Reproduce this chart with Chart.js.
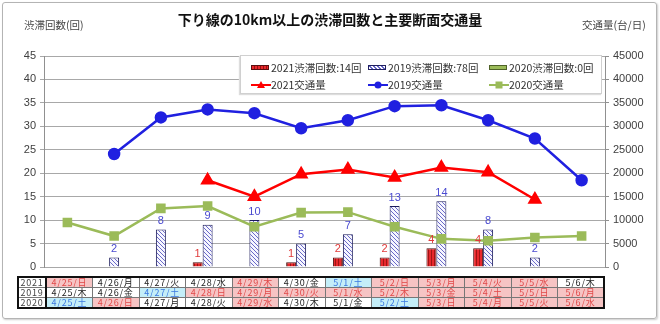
<!DOCTYPE html>
<html lang="ja">
<head>
<meta charset="UTF-8">
<title>下り線の10km以上の渋滞回数と主要断面交通量</title>
<script src="https://cdn.jsdelivr.net/npm/chart.js"></script>
<style>
    body { margin: 0; background: #fff; font-family: "Noto Sans CJK JP", sans-serif; }
    .frame {
        position: absolute; left: 2px; top: 2px; width: 653px; height: 315px;
        border: 1px solid #b4b4b4; border-radius: 3px; box-shadow: 1px 1px 2px #ccc;
    }
    #wrap { position: absolute; left: 0; top: 0; width: 660px; height: 324px; }
    .title { position: absolute; left: 0; width: 660px; top: 9px; text-align: center; font-size: 14px; font-weight: bold; color: #111; }
    .axis-title { position: absolute; top: 17px; font-size: 10.5px; color: #444; }
    .legend {
        position: absolute; left: 240px; top: 55px; width: 360px; height: 37px;
        background: #fff; border: 1px solid #d0d0d0; box-shadow: -1px 1px 1px #ddd;
        font-size: 10.5px; color: #333;
    }
    .legend .item { position: absolute; display: flex; align-items: center; white-space: nowrap; }
    .sw { width: 18px; height: 5px; margin-right: 2px; box-sizing: border-box; }
    .sw-red { background: repeating-linear-gradient(90deg, #e8282c 0 2px, #9a1010 2px 3px); border: 1px solid #5a1010; }
    .sw-blue { background: repeating-linear-gradient(45deg, #fff 0 1.5px, #6868c8 1.5px 3px); border: 1px solid #202060; }
    .sw-green { background: #9bbb59; border: 1px solid #4f6228; }
    table.days {
        position: absolute; left: 17px; top: 276px; width: 588px;
        border-collapse: collapse; table-layout: fixed; border: 2px solid #111;
        font-size: 9px; letter-spacing: 0.8px;
    }
    table.days td { border: 1px solid #777; height: 9px; line-height: 9px; padding: 0; text-align: center; color: #222; white-space: nowrap; overflow: hidden; }
    td.h { background: #f6c4c4; color: #e04848 !important; }
    td.s { background: #c4eef8; color: #3a78e0 !important; }
    td.yr { border-right: 2px solid #111 !important; color: #444 !important; }
</style>
</head>
<body>
<div class="frame"></div>
<div id="wrap">
    <canvas id="chart" width="660" height="324"></canvas>
</div>
<div class="title">下り線の10km以上の渋滞回数と主要断面交通量</div>
<div class="axis-title" style="left:24px">渋滞回数(回)</div>
<div class="axis-title" style="left:582px">交通量(台/日)</div>

<div class="legend">
    <div class="item" style="left:10px;top:4px"><div class="sw sw-red"></div>2021渋滞回数:14回</div>
    <div class="item" style="left:127px;top:4px"><div class="sw sw-blue"></div>2019渋滞回数:78回</div>
    <div class="item" style="left:248px;top:4px"><div class="sw sw-green"></div>2020渋滞回数:0回</div>
    <div class="item" style="left:10px;top:21px">
        <svg width="20" height="10"><line x1="0" y1="5" x2="20" y2="5" stroke="#ff0000" stroke-width="2"/><polygon points="10,1 14,8 6,8" fill="#ff0000"/></svg>2021交通量</div>
    <div class="item" style="left:127px;top:21px">
        <svg width="20" height="10"><line x1="0" y1="5" x2="20" y2="5" stroke="#2020e0" stroke-width="2"/><circle cx="10" cy="5" r="3.5" fill="#2020e0"/></svg>2019交通量</div>
    <div class="item" style="left:248px;top:21px">
        <svg width="20" height="10"><line x1="0" y1="5" x2="20" y2="5" stroke="#9bbb59" stroke-width="2"/><rect x="6.5" y="1.5" width="7" height="7" fill="#9bbb59"/></svg>2020交通量</div>
</div>

<table class="days" id="days"></table>

<script>
    // 日付(2021年基準のカテゴリ)
    const categories = ['4/25', '4/26', '4/27', '4/28', '4/29', '4/30', '5/1', '5/2', '5/3', '5/4', '5/5', '5/6'];

    // 渋滞回数(回)
    const jam2021 = [0, 0, 0, 1, 0, 1, 2, 2, 4, 4, 0, 0];
    const jam2019 = [0, 2, 8, 9, 10, 5, 7, 13, 14, 8, 2, 0];
    const jam2020 = [0, 0, 0, 0, 0, 0, 0, 0, 0, 0, 0, 0];

    // 交通量(台/日)
    const traffic2021 = [null, null, null, 18500, 15000, 19800, 20800, 19100, 21200, 20200, 14400, null];
    const traffic2019 = [null, 24100, 31900, 33600, 32800, 29600, 31300, 34300, 34500, 31300, 27400, 18500];
    const traffic2020 = [9500, 6600, 12500, 13000, 8600, 11600, 11700, 8600, 6000, 5600, 6300, 6600];

    // 曜日表 (h=休日, s=土曜)
    const days2021 = ['4/25/日', '4/26/月', '4/27/火', '4/28/水', '4/29/木', '4/30/金', '5/1/土', '5/2/日', '5/3/月', '5/4/火', '5/5/水', '5/6/木'];
    const kind2021 = ['h', '', '', '', 'h', '', 's', 'h', 'h', 'h', 'h', ''];
    const days2019 = ['4/25/木', '4/26/金', '4/27/土', '4/28/日', '4/29/月', '4/30/火', '5/1/水', '5/2/木', '5/3/金', '5/4/土', '5/5/日', '5/6/月'];
    const kind2019 = ['', '', 's', 'h', 'h', 'h', 'h', 'h', 'h', 'h', 'h', 'h'];
    const days2020 = ['4/25/土', '4/26/日', '4/27/月', '4/28/火', '4/29/水', '4/30/木', '5/1/金', '5/2/土', '5/3/日', '5/4/月', '5/5/火', '5/6/水'];
    const kind2020 = ['s', 'h', '', '', 'h', '', '', 's', 'h', 'h', 'h', 'h'];

    // 表の作成
    const table = document.getElementById('days');
    let html = '<colgroup><col style="width:28px">' + categories.map(() => '<col>').join('') + '</colgroup>';
    [['2021', days2021, kind2021], ['2019', days2019, kind2019], ['2020', days2020, kind2020]].forEach(([yr, d, k]) => {
        html += '<tr><td class="yr">' + yr + '</td>' + d.map((t, i) => `<td class="${k[i]}">${t}</td>`).join('') + '</tr>';
    });
    table.innerHTML = html;

    // ハッチング
    function makePattern(draw, w, h) {
        const c = document.createElement('canvas');
        c.width = w; c.height = h;
        draw(c.getContext('2d'));
        return c.getContext('2d').createPattern(c, 'repeat');
    }
    const redPattern = makePattern(g => {
        g.fillStyle = '#e8282c'; g.fillRect(0, 0, 3, 3);
        g.fillStyle = '#a01414'; g.fillRect(2, 0, 1, 3);
    }, 3, 3);
    const bluePattern = makePattern(g => {
        g.fillStyle = '#f6f6ff'; g.fillRect(0, 0, 4, 4);
        g.strokeStyle = '#6a6ac8'; g.lineWidth = 1;
        g.beginPath(); g.moveTo(0, 0); g.lineTo(4, 4); g.moveTo(-2, 2); g.lineTo(2, 6); g.moveTo(2, -2); g.lineTo(6, 2); g.stroke();
    }, 4, 4);

    // バーの上の数値
    const barLabels = {
        id: 'barLabels',
        afterDatasetsDraw(chart) {
            const ctx = chart.ctx;
            ctx.save();
            ctx.font = '11px "Liberation Sans", sans-serif';
            ctx.textAlign = 'center';
            ctx.textBaseline = 'bottom';
            [[0, '#e03a3a'], [1, '#4a4ad0']].forEach(([di, color]) => {
                const meta = chart.getDatasetMeta(di);
                ctx.fillStyle = color;
                meta.data.forEach((bar, i) => {
                    const v = chart.data.datasets[di].data[i];
                    if (v > 0) ctx.fillText(v, bar.x, bar.y - 3);
                });
            });
            ctx.restore();
        }
    };

    const tickFont = { family: '"Liberation Sans", sans-serif', size: 11 };

    new Chart(document.getElementById('chart'), {
        type: 'bar',
        data: {
            labels: categories,
            datasets: [
                { label: '2021渋滞回数', data: jam2021, yAxisID: 'y', backgroundColor: redPattern, borderColor: '#4a1010', borderWidth: 1, order: 10 },
                { label: '2019渋滞回数', data: jam2019, yAxisID: 'y', backgroundColor: bluePattern, borderColor: '#1a1a5a', borderWidth: 1, order: 10 },
                { label: '2020渋滞回数', data: jam2020, yAxisID: 'y', backgroundColor: '#9bbb59', borderColor: '#4f6228', borderWidth: 0, order: 10 },
                { type: 'line', label: '2021交通量', data: traffic2021, yAxisID: 'y2', borderColor: '#ff0000', backgroundColor: '#ff0000',
                  borderWidth: 2.5, pointStyle: 'triangle', pointRadius: 6, tension: 0, order: 1 },
                { type: 'line', label: '2019交通量', data: traffic2019, yAxisID: 'y2', borderColor: '#2020e0', backgroundColor: '#2020e0',
                  borderWidth: 2.5, pointStyle: 'circle', pointRadius: 5, tension: 0, order: 1 },
                { type: 'line', label: '2020交通量', data: traffic2020, yAxisID: 'y2', borderColor: '#9bbb59', backgroundColor: '#9bbb59',
                  borderWidth: 2.5, pointStyle: 'rect', pointRadius: 5, tension: 0, order: 1 }
            ]
        },
        options: {
            responsive: false,
            animation: false,
            layout: { padding: { top: 56, bottom: 57, left: 0, right: 0 } },
            datasets: { bar: { barPercentage: 1, categoryPercentage: 0.64 } },
            plugins: { legend: { display: false }, tooltip: { enabled: false } },
            scales: {
                x: { display: false, grid: { display: false } },
                y: {
                    position: 'left', min: 0, max: 45,
                    ticks: { stepSize: 5, color: '#404040', font: tickFont, padding: 4 },
                    grid: { color: '#a8a8a8', tickLength: 4 },
                    border: { color: '#909090' },
                    afterFit(scale) { scale.width = 44; }
                },
                y2: {
                    position: 'right', min: 0, max: 45000,
                    ticks: { stepSize: 5000, color: '#404040', font: tickFont, padding: 4, callback: v => String(v) },
                    grid: { drawOnChartArea: false, color: '#909090', tickLength: 4 },
                    border: { color: '#909090' },
                    afterFit(scale) { scale.width = 55; }
                }
            }
        },
        plugins: [barLabels]
    });
</script>
</body>
</html>
